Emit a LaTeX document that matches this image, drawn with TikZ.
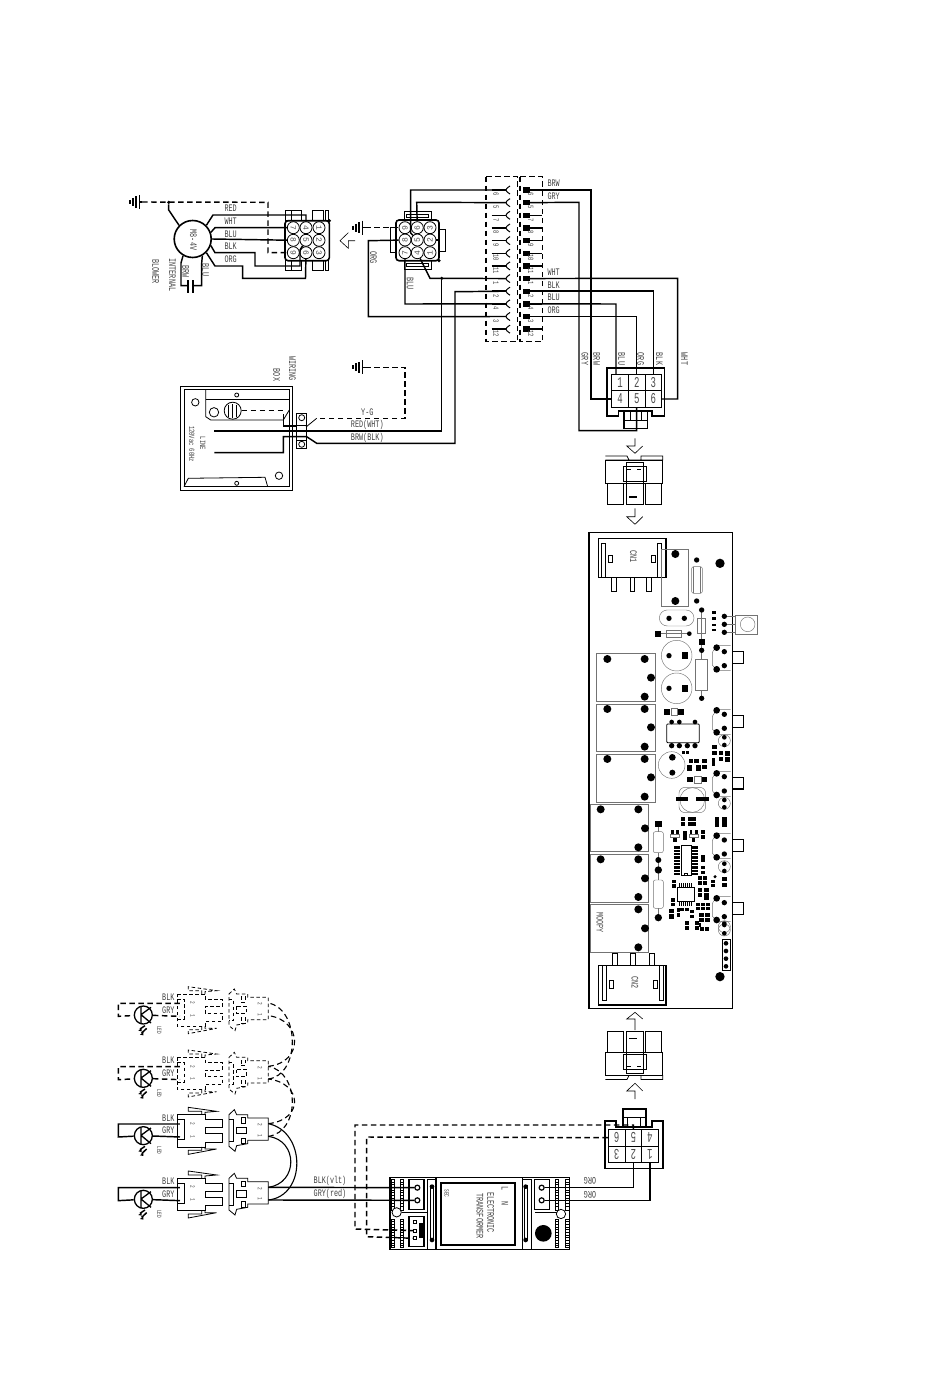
\documentclass[tikz,border=0pt]{standalone}
\usepackage{fontspec}
\newfontfamily\labelfam{Liberation Mono}
\newcommand{\lblfont}{\labelfam\fontsize{10}{11}\selectfont}
\newcommand{\tinyfont}{\labelfam\fontsize{6.5}{7}\selectfont}
\newcommand{\pinfont}{\labelfam\fontsize{8}{9}\selectfont}
\newcommand{\cellfont}{\labelfam\fontsize{15}{16}\selectfont}
\usetikzlibrary{positioning, calc}
\tikzset{
  wire/.style={line width=1.45pt},
  dwire/.style={line width=1.45pt, dash pattern=on 5.5pt off 3.5pt},
  part/.style={line width=.8pt},
  heavy/.style={line width=1.6pt},
  fine/.style={line width=.6pt},
  gline/.style={line width=.45pt, black!55},
  lbl/.style={inner sep=0pt, transform shape, xscale=.68, font=\lblfont, text=black!75},
  rlbl/.style={inner sep=0pt, transform shape, rotate=-90, xscale=.68, font=\lblfont, text=black!75},
  flbl/.style={inner sep=0pt, transform shape, rotate=180, xscale=.68, font=\lblfont, text=black!75},
  pincirc/.style={circle, draw, line width=.8pt, minimum size=12pt, inner sep=0pt, transform shape, font=\pinfont, text=black!70},
  gridcell/.style={rectangle, draw, line width=.9pt, minimum size=16.6pt, inner sep=0pt, transform shape, font=\cellfont, text=black!70},
  blackdot/.style={circle, fill=black, inner sep=0pt, minimum size=3.5pt},
  ledsolid/.style={},
  leddash/.style={dash pattern=on 3.5pt off 2.5pt},
  pics/gndmark/.style={code={
    \foreach \gx/\gh in {0/2,3/4,6/5.5,9.5/7} \draw[line width=1.1pt] (\gx,-\gh) -- (\gx,\gh);
    \draw[line width=1.1pt] (9.5,0) -- (12,0);
  }},
}
\begin{document}
\begin{tikzpicture}[x=1pt, y=-1pt]
  \useasboundingbox (0,0) rectangle (950,1383);

  % blower
  \pic at (130,202) {gndmark};
  \coordinate (gA) at (142,202);
  \node[circle, draw, heavy, minimum size=37pt, inner sep=0pt] (motor) at (192.7,239) {};
  \node[rlbl] (motortxt) at (193.3,240) {M8-4V};
  \node[blackdot] (gjoin) at (168.7,202.3) {};
  \node[rlbl] (intl) at (172.3,275) {INTERNAL};
  \node[rlbl] (blowl) at (155.7,271.7) {BLOWER};
  \node[rlbl] (brwl) at (185.7,271.7) {BRW};
  \node[rlbl] (blul) at (205.7,270) {BLU};
  \foreach \lb/\yy in {RED/208.3, WHT/221.7, BLU/234, BLK/246.7, ORG/259.3}
    \node[lbl] (l\lb) at (230.7,\yy) {\lb};

  % left 9 pin connector
  \draw[heavy, rounded corners=3pt] (285,220.7) rectangle (329.3,260.7);
  \foreach \xa/\xb in {285/291, 291/301.7, 312.7/323.3, 325/328.3} {
    \draw[part] (\xa,210.7) rectangle (\xb,220.7);
    \draw[part] (\xa,260.7) rectangle (\xb,270.7);
  }
  \foreach \n/\xx/\yy in {7/293.3/227.7, 4/306/227.7, 1/319/227.7, 8/293.3/240.3, 5/306/240.3, 2/319/240.3, 9/293.3/252.7, 6/306/252.7, 3/319/252.7}
    \node[pincirc, rotate=-90] (ca\n) at (\xx,\yy) {\n};
  \node[blackdot] (cadot) at (329.3,220.7) {};

  \draw[wire] (gjoin) -- (168.7,210) -- (motor.135);
  \draw[dwire] (gA) -- (268,202.3) |- (ca9);
  \draw[wire] (motor.45) -- (213,215) -- (306,215) -- (ca4);
  \draw[wire] (motor.20) -- (215,227.7) -- (ca7);
  \draw[wire] (motor.east) -- (ca8);
  \draw[wire] (motor.-20) -- (215,252.7) -- (255,252.7) -- (255,266) -- (300,266) -- (300,250) -- (ca5);
  \draw[wire] (motor.-45) -- (215,266) -- (242.7,266) -- (242.7,278.3) -- (305.5,278.3) -- (ca6);
  \coordinate (capl) at (188.3,285.7);
  \coordinate (capr) at (193.3,285.7);
  \draw[wire] (motor.-120) -- (181,263) -- (181,285.7) -- (capl);
  \draw[wire] (motor.-60) -- (201.7,263) -- (201.7,285.7) -- (capr);
  \draw[line width=2pt] (188.3,280) -- (188.3,293);
  \draw[line width=2pt] (193.3,280) -- (193.3,293);

  % arrow between the two
  \draw[fine] (348.3,232.7) -- (340,240.7) -- (348.3,248.3) -- (348.3,240.7) -- (355,240.7);

  % right 9 pin connector
  \pic at (353,227.7) {gndmark};
  \coordinate (gB) at (365,227.7);
  \draw[heavy, rounded corners=3pt] (396,220) rectangle (439,260.7);
  \draw[part] (404,211.7) rectangle (431.7,220);
  \draw[part] (406.7,214.3) rectangle (428.3,217.7);
  \draw[part] (404,260.7) rectangle (431.7,269.3);
  \draw[part] (406.7,263.3) rectangle (428.3,266.7);
  \draw[part] (390,227.3) rectangle (396,252);
  \draw[part] (439,229.3) rectangle (445,251.7);
  \foreach \n/\xx/\yy in {9/405/227.7, 6/417.3/227.7, 3/430/227.7, 8/405/240, 5/417.3/240, 2/430/240, 7/405/252.7, 4/417.3/252.7, 1/430/252.7}
    \node[pincirc, rotate=90] (cb\n) at (\xx,\yy) {\n};
  \node[blackdot] (cbdot) at (439,260.7) {};
  \draw[wire] (cb2) -- (439,240);
  \draw[dwire] (gB) -- (cb9);
  \node[rlbl] (orgl) at (373.3,257.3) {ORG};
  \node[rlbl] (blucl) at (410,283.3) {BLU};

  % terminal strip
  \draw[dwire] (486,176.7) rectangle (517.3,341.7);
  \draw[dwire] (520,176.7) rectangle (542.3,341.7);
  \foreach \i/\t in {1/6,2/5,3/7,4/8,5/9,6/10,7/11,8/1,9/2,10/4,11/3,12/12} {
    \pgfmathsetmacro{\yy}{190+12.65*(\i-1)}
    \coordinate (sl\i) at (506,\yy);
    \coordinate (sr\i) at (530,\yy);
    \draw[wire] (491.7,\yy) -- (sl\i);
    \draw[line width=1pt] (510,\yy-4) .. controls (507,\yy-2) and (506,\yy-1) .. (sl\i) .. controls (506,\yy+1) and (507,\yy+2) .. (510,\yy+4);
    \fill (523.3,\yy-2.7) rectangle (530,\yy+2.7);
    \draw[wire] (sr\i) -- (542.3,\yy);
    \node[rlbl, font=\pinfont] (nl\i) at (496,\yy+4.5) {\t};
    \node[rlbl, font=\pinfont] (nr\i) at (530.7,\yy+4.5) {\t};
  }
  \foreach \lb/\yy in {BRW/183.3, GRY/196, WHT/272.3, BLK/285, BLU/297.7, ORG/310.7}
    \node[lbl] (t\lb) at (553.7,\yy) {\lb};

  \draw[wire] (sl1) -- (410.7,190) -- (410.7,233) -- (cb5);
  \draw[wire] (sl2) -- (416.7,202.3) -- (cb6);
  \draw[wire] (sl11) -- (368.3,316.7) -- (368.3,240.7) -- (cb8);
  \draw[wire] (sl10) -- (405,304) -- (cb7);
  \draw[wire] (cb4) -- (430,278.3) -- (sl8);
  \node[blackdot] (joinL) at (441.7,278.3) {};

  % 6 pin connector, upper
  \draw[heavy] (606.7,367.7) -- (664.3,367.7) -- (664.3,416) -- (651.7,416) -- (651.7,410.7) -- (618.3,410.7) -- (618.3,416) -- (606.7,416) -- cycle;
  \foreach \n/\xx/\yy in {1/620/382.3, 2/636.7/382.3, 3/653.3/382.3, 4/620/399, 5/636.7/399, 6/653.3/399}
    \node[gridcell] (ka\n) at (\xx,\yy) {\scalebox{.6}[1]{\n}};
  \draw[heavy] (624,410.7) rectangle (647.3,428.3);
  \draw[part] (630,410.7) -- (630,420) (641,410.7) -- (641,420) (624,420) -- (647.3,420);
  \draw[wire] (sr1) -- (591,190) |- (ka4);
  \draw[wire] (sr2) -- (579,202.3) |- (636.7,430.7) -- (ka5);
  \draw[wire] (sr8) -- (677.7,278.3) |- (ka6);
  \draw[wire] (sr9) -| (ka3);
  \draw[wire] (sr10) -- (616,304) -- (616,374);
  \draw[wire] (sr11) -| (ka2);
  \foreach \lb/\xx in {GRY/585, BRW/596.7, BLU/621.7, ORG/640.7, BLK/659.3, WHT/684.3}
    \node[rlbl] (k\lb) at (\xx,359) {\lb};

  % wiring box
  \draw[part] (180.7,386.7) rectangle (292.3,490);
  \draw[part] (184,389.3) rectangle (289.3,486.7);
  \draw[part] (205.7,389.3) -- (205.7,416.7) -- (210.7,420) -- (283.3,420) -- (289.3,410);
  \draw[part] (205.7,399.3) -- (289.3,399.3);
  \draw[part] (184,486.7) -- (188.3,478.3) -- (265,477.3) -- (267.7,486.7);
  \foreach \xx/\yy/\rr in {236.7/395/2, 195.3/402.3/3.7, 214/412.3/4.7, 279/475.7/3.7, 236.7/483.3/2}
    \draw[part] (\xx,\yy) circle (\rr);
  \node[circle, draw, part, minimum size=17pt, inner sep=0pt] (boxgnd) at (232.7,410.7) {};
  \draw[part] (228.5,405) -- (228.5,416.5) (232.7,404) -- (232.7,417.5) (236.5,405) -- (236.5,416.5);
  \draw[part] (296.7,413.3) rectangle (306,448.3);
  \node[circle, draw, part, minimum size=6pt, inner sep=0pt] (tbA) at (301.7,417.7) {};
  \node[circle, draw, part, minimum size=6pt, inner sep=0pt] (tbB) at (301.7,444.3) {};
  \draw[part] (296.7,425) -- (306,425) (296.7,440) -- (306,440);
  \pic at (353,367.3) {gndmark};
  \coordinate (gC) at (365,367.3);
  \coordinate (yg) at (316.7,418.3);
  \draw[dwire] (gC) -- (405,367.3) -- (405,418.3) -- (yg);
  \draw[part] (yg) -- (306,427);
  \draw[dwire] (boxgnd) -- (283.3,410.7) -- (283.3,418);
  \draw[wire] (283.3,418) -- (283.3,426) -- (296.7,426);
  \coordinate (lineA) at (214.3,431);
  \coordinate (lineB) at (214.3,452.7);
  \draw[wire] (lineA) -- (441.7,431) -- (joinL);
  \draw[wire] (lineB) -- (283.3,452.7) -- (283.3,436.7) -- (306.7,436.7) -- (316.7,443.3) -- (455,443.3) -- (455,291.7) -- (sl9);
  \node[lbl] (lyg) at (367.3,412.7) {Y-G};
  \node[lbl] (lred) at (367.3,425) {RED(WHT)};
  \node[lbl] (lbrw) at (367.3,437.7) {BRW(BLK)};
  \node[rlbl] (lwir) at (292.3,368.3) {WIRING};
  \node[rlbl] (lbox) at (276.7,375) {BOX};
  \node[rlbl, font=\pinfont] (lline) at (202.7,443.3) {LINE};
  \node[rlbl, font=\pinfont] (lvac) at (191.7,444) {120Vac 60Hz};

  % arrows and plugs
  \draw[fine] (635,438.3) -- (635,446) -- (626.7,446) -- (635,453.3) -- (642.7,446);
  \draw[fine] (635,508.3) -- (635,516.7) -- (626.7,516.7) -- (635,524.3) -- (642.7,516.7);
  \draw[fine] (635,1030) -- (635,1019) -- (626.7,1019) -- (635,1012.3) -- (642.7,1019);
  \draw[fine] (635,1099) -- (635,1091) -- (626.7,1091) -- (635,1083.3) -- (642.7,1091);
  \foreach \sh/\fl in {456/1, 1079.5/-1} {
    \begin{scope}[shift={(634,\sh)}, yscale=\fl]
      \draw[part] (-28.7,0) -- (-7,0) -- (-5,4) (7,4) -- (7,0) -- (28.7,0) -- (28.7,4) -- (-28.7,4) -- cycle;
      \draw[part] (-28.7,4) rectangle (28.7,27);
      \draw[part] (-27,27) rectangle (-11,48);
      \draw[part] (11,27) rectangle (27,48);
      \draw[part] (-11,10) rectangle (12,25);
      \draw[part] (-8,6.5) rectangle (9,48);
      \draw[line width=1.5pt] (-5,41) -- (3,41);
      \draw[line width=.7pt] (-7,13) -- (-3,13) (3,13) -- (7,13);
    \end{scope}
  }

  % board
  \draw[heavy] (589,532.3) rectangle (732.3,1008.3);
  \begin{scope}[shift={(580,525)}, x=.3333pt, y=-.3333pt]
    \draw[heavy] (55,40) rectangle (258,158);
    \draw[part] (65,55) rectangle (75,158);
    \draw[part] (233,55) rectangle (245,158);
    \draw[part] (85,90) rectangle (97,112);
    \draw[part] (215,90) rectangle (227,112);
    \node[rlbl] (cnA) at (160,95) {CN1};
    \foreach \xa in {94,150,200}
      \draw[part] (\xa,158) rectangle (\xa+14,200);
    \draw[gline] (245,72) rectangle (325,245);
    \draw[gline, rounded corners=2pt] (335,125) rectangle (367,205);
    \draw[gline] (340,125) -- (340,205) (362,125) -- (362,205);
    \draw[gline, rounded corners=8pt] (238,255) rectangle (342,303);
    \draw[gline] (467,272) rectangle (532,327);
    \draw[gline] (503,298) circle (22);
    \draw[gline] (433,274) -- (467,274) (433,298) -- (467,298) (433,322) -- (467,322);
    \draw[gline] (258,315) rectangle (305,338);
    \draw[gline] (234,326) -- (328,326);
    \draw[gline] (353,280) rectangle (377,325);
    \draw[gline] (365,255) -- (365,376);
    \draw[gline] (347,403) rectangle (382,497);
    \draw[gline] (365,376) -- (365,403) (365,497) -- (365,520);
    \draw[gline] (290,392) circle (46);
    \draw[gline] (290,490) circle (46);
    \draw[gline] (50,385) rectangle (226,530);
    \draw[gline] (50,538) rectangle (226,680);
    \draw[gline] (50,688) rectangle (226,831);
    \foreach \yb in {380,572} {
      \draw[heavy] (457,\yb) -- (490,\yb) -- (490,\yb+35) -- (457,\yb+35);
      \draw[gline] (452,\yb-18) -- (410,\yb-18) -- (397,\yb+2) -- (397,\yb+40) -- (410,\yb+57) -- (452,\yb+57);
    }
    \foreach \xx/\yy/\rr in {286/87/12, 286/228/12, 350/105/8, 350/228/8, 420/115/14, 267/280/8, 313/280/8, 365/255/8, 433/274/8, 433/298/8, 433/322/8, 328/326/7, 365/376/8, 267/392/8, 365/520/8, 267/490/8,
      82/402/12, 194/402/12, 213/458/12, 194/515/12, 82/552/12, 194/552/12, 213/607/12, 194/665/12, 82/702/12, 194/702/12,
      410/368/10, 410/433/10, 433/380/8, 433/422/8, 410/556/10, 410/622/10, 433/568/8, 433/610/8}
      \fill (\xx,\yy) circle (\rr);
    \foreach \xx/\yy/\ww/\hh in {402/262/10/8, 402/280/10/8, 402/300/10/8, 402/315/10/8, 234/326/18/18, 365/350/18/18, 315/392/20/20, 315/490/20/20}
      \fill (\xx-\ww/2,\yy-\hh/2) rectangle (\xx+\ww/2,\yy+\hh/2);
  \end{scope}
  \begin{scope}[shift={(655,700)}, x=.3333pt, y=-.3333pt]
    \draw[part, rounded corners=1pt] (35,72) rectangle (133,128);
    \draw[gline] (50,25) rectangle (68,47);
    \draw[gline] (50,195) circle (40);
    \draw[gline, rounded corners=6pt] (72,262) rectangle (152,338);
    \draw[gline] (112,300) circle (37);
    \draw[gline] (118,228) rectangle (138,250);
    \draw[gline] (208,122) circle (18);
    \draw[gline] (208,310) circle (18);
    \foreach \xx/\yy/\rr in {50/66/7, 73/66/7, 120/66/7, 50/137/8, 73/137/8, 97/137/8, 120/137/8, 52/172/10, 52/218/9, 208/112/7, 208/135/7, 208/300/7, 208/322/7}
      \fill (\xx,\yy) circle (\rr);
    \foreach \xx/\yy/\ww/\hh in {37/35/18/18, 78/35/18/18, 85/158/10/10, 97/158/10/10, 108/182/14/12, 125/182/14/12, 103/205/14/18, 130/205/14/18, 148/183/14/12, 148/200/14/12,
      105/238/16/16, 148/238/16/16, 81/298/38/11, 143/298/38/11, 178/140/14/12, 178/158/14/12, 198/158/14/12, 198/178/14/12, 175/180/10/10, 175/192/10/10, 218/160/14/14, 218/178/14/14}
      \fill (\xx-\ww/2,\yy-\hh/2) rectangle (\xx+\ww/2,\yy+\hh/2);
  \end{scope}
  \begin{scope}[shift={(655,815)}, x=.3333pt, y=-.3333pt]
    \draw[part] (78,92) rectangle (110,182);
    \draw[part] (88,175) rectangle (98,182);
    \draw[part] (68,217) rectangle (118,258);
    \draw[gline] (47,58) rectangle (73,68);
    \draw[gline] (103,58) rectangle (130,68);
    \draw[gline] (208,155) circle (18);
    \draw[gline] (208,335) circle (18);
    \foreach \yb in {97,107,...,177} {
      \fill (57,\yb-3.5) rectangle (75,\yb+3.5);
      \fill (112,\yb-3.5) rectangle (130,\yb+3.5);
    }
    \foreach \xb in {73,79,...,113} {
      \fill (\xb-2,203) rectangle (\xb+2,215);
      \fill (\xb-2,260) rectangle (\xb+2,272);
    }
    \foreach \xx/\yy/\rr in {208/146/7, 208/168/7, 180/185/5, 208/325/7}
      \fill (\xx,\yy) circle (\rr);
    \foreach \xx/\yy/\ww/\hh in {84/13/14/12, 84/28/14/12, 104/13/12/12, 104/28/12/12, 118/13/12/12, 118/28/12/12, 186/13/14/14, 186/28/14/14, 208/13/14/14, 208/28/14/14,
      52/51/8/10, 68/51/8/10, 60/75/10/10, 90/55/14/14, 90/70/14/12, 108/51/8/10, 125/51/8/10, 115/75/10/10, 143/52/12/12, 143/65/12/12,
      143/125/12/10, 143/135/12/10, 143/158/12/10, 143/172/12/10, 135/190/12/12, 150/190/12/12, 135/205/12/12, 150/205/12/12, 173/200/12/10, 173/212/12/10, 208/192/14/12, 208/210/14/12,
      58/200/12/10, 58/213/12/10, 135/225/12/12, 155/225/14/12, 135/240/12/12, 155/240/14/12, 155/250/14/8, 55/255/12/10, 55/268/12/10,
      130/268/12/10, 145/268/12/10, 158/268/12/10, 130/280/12/10, 145/280/12/10, 158/280/12/10, 50/288/16/14, 50/305/16/14, 70/285/10/12, 70/300/10/12, 82/283/12/10, 95/283/12/10, 110/290/12/10, 110/305/12/10,
      140/300/14/12, 158/300/14/12, 140/315/14/12, 158/315/14/12, 97/325/12/12, 97/338/12/12, 125/325/12/12, 125/338/12/12, 140/342/12/10, 155/342/12/10, 135/330/6/10}
      \fill (\xx-\ww/2,\yy-\hh/2) rectangle (\xx+\ww/2,\yy+\hh/2);
  \end{scope}
  \begin{scope}[shift={(580,770)}, x=.3333pt, y=-.3333pt]
    \draw[heavy] (55,587) rectangle (258,705);
    \draw[part] (68,587) rectangle (80,690);
    \draw[part] (237,587) rectangle (249,690);
    \draw[part] (88,632) rectangle (100,655);
    \draw[part] (220,632) rectangle (232,655);
    \node[rlbl] (cnB) at (165,638) {CN2};
    \foreach \xa in {98,150,207}
      \draw[part] (\xa,550) rectangle (\xa+15,587);
    \foreach \yb/\ye in {103/245, 253/397, 403/547}
      \draw[gline] (32,\yb) rectangle (205,\ye);
    \node[rlbl, text=black!70] (moopy) at (60,458) {MOOPY};
    \foreach \yb in {22,209,398} {
      \draw[heavy] (457,\yb) -- (490,\yb) -- (490,\yb+35) -- (457,\yb+35);
      \draw[gline] (452,\yb-18) -- (410,\yb-18) -- (397,\yb+2) -- (397,\yb+40) -- (410,\yb+57) -- (452,\yb+57);
    }
    \draw[gline, rounded corners=2pt] (220,185) rectangle (250,248);
    \draw[gline] (235,162) -- (235,185) (235,248) -- (235,300);
    \draw[gline, rounded corners=2pt] (220,330) rectangle (250,415);
    \draw[gline] (235,300) -- (235,330) (235,415) -- (235,443);
    \draw[part] (428,508) rectangle (452,600);
    \draw[gline] (433,480) circle (18);
    \foreach \xx/\yy/\rr in {62/118/12, 175/118/12, 195/175/12, 175/232/12, 62/268/12, 175/268/12, 195/325/12, 175/381/12, 175/418/12, 195/475/12, 175/532/12,
      213/22/12, 194/80/12,
      410/10/10, 410/75/10, 433/20/8, 433/63/8, 410/197/10, 410/262/10, 433/210/8, 433/252/8, 410/385/10, 410/450/10, 433/398/8, 433/440/8,
      433/465/7, 433/490/7, 235/270/9, 235/300/11, 235/443/11, 420/620/14,
      438/520/7, 438/543/7, 438/566/7, 438/589/7}
      \fill (\xx,\yy) circle (\rr);
    \fill (225,153) rectangle (245,171);
  \end{scope}

  % lamps
  \foreach \r/\dy/\st/\wst in {4/0/ledsolid/wire, 3/-191/ledsolid/wire, 2/-363/leddash/dwire, 1/-553/leddash/dwire} {
    \begin{scope}[shift={(100,980)}, x=.3333pt, y=-.3333pt, shift={(0,\dy)}]
      \node[lbl] (lk\r) at (205,605) {BLK};
      \node[lbl] (lg\r) at (205,643) {GRY};
      \node[circle, draw, line width=1.3pt, minimum size=18pt, inner sep=0pt] (led\r) at (130,658) {};
      \coordinate (ppa\r) at (240,623);
      \coordinate (ppb\r) at (240,662);
      \draw[\wst] (ppa\r) -- (55,623) -- (55,662) -- (led\r);
      \draw[\wst] (led\r) -- (ppb\r);
      \draw[line width=1.3pt] (123,633) -- (123,685) (123,657) -- (153,635) (123,657) -- (153,682);
      \draw[line width=1.5pt] (120,700) -- (135,690) (125,712) -- (140,698);
      \fill (115,705) -- (125,697) -- (125,707) -- cycle;
      \fill (120,717) -- (130,709) -- (130,719) -- cycle;
      \node[rlbl, font=\tinyfont] (ledt\r) at (178,703) {LED};
      % plug
      \draw[part, \st] (232,595) -- (315,595) -- (315,610) -- (367,610) -- (367,633) -- (315,633) -- (315,652) -- (367,652) -- (367,677) -- (315,677) -- (315,692) -- (232,692) -- cycle;
      \draw[part, \st] (232,610) -- (252,610) -- (252,670) -- (232,670);
      \draw[part, \st] (305,595) -- (305,585) -- (265,585) -- (265,573) -- (350,585) -- (315,588) -- (315,595);
      \draw[part, \st] (305,692) -- (305,702) -- (265,702) -- (265,714) -- (350,698) -- (315,698) -- (315,692);
      \node[rlbl, font=\tinyfont] (pn\r) at (278,622) {2};
      \node[rlbl, font=\tinyfont] (pm\r) at (278,660) {1};
      % receptacle
      \draw[part, \st] (387,595) -- (403,580) -- (410,595) -- (443,595) -- (443,605) -- (505,605) -- (505,672) -- (443,672) -- (443,682) -- (410,688) -- (405,705) -- (387,690) -- cycle;
      \draw[part, \st] (387,610) -- (400,610) -- (400,675) -- (387,675);
      \draw[part, \st] (408,632) rectangle (440,652);
      \draw[part, \st] (423,603) rectangle (435,620);
      \draw[part, \st] (423,665) rectangle (435,682);
      \node[rlbl, font=\tinyfont] (qn\r) at (480,625) {2};
      \node[rlbl, font=\tinyfont] (qm\r) at (480,658) {1};
      \coordinate (ra\r) at (505,622);
      \coordinate (rb\r) at (505,660);
    \end{scope}
  }
  \draw[line width=1.1pt] (rb4) .. controls +(38,-4) and +(38,8) .. (ra3);
  \draw[line width=1.1pt] (ra4) .. controls +(30,-4) and +(30,4) .. (rb3);
  \draw[dwire, line width=1.1pt] (rb3) .. controls +(32,-4) and +(32,6) .. (ra2);
  \draw[dwire, line width=1.1pt] (ra3) .. controls +(36,-4) and +(34,4) .. (rb2);
  \draw[dwire, line width=1.1pt] (rb2) .. controls +(32,-4) and +(32,6) .. (ra1);
  \draw[dwire, line width=1.1pt] (ra2) .. controls +(36,-4) and +(34,4) .. (rb1);

  % transformer
  \begin{scope}[shift={(340,1020)}, x=.3333pt, y=-.3333pt]
    \draw[heavy] (150,472) rectangle (688,688);
    \draw[heavy] (288,472) -- (288,688) (548,472) -- (548,688);
    \draw[line width=1.8pt] (302,490) rectangle (526,675);
    \draw[part] (262,478) rectangle (288,688);
    \draw[part] (548,478) rectangle (575,688);
    \draw[line width=1.2pt] (272,498) rectangle (280,660);
    \draw[line width=1.2pt] (553,498) rectangle (562,660);
    \draw[heavy] (207,478) rectangle (252,568);
    \draw[heavy] (583,478) rectangle (628,568);
    \node[circle, draw, line width=1.2pt, minimum size=5pt, inner sep=0pt] (tla) at (232,503) {};
    \node[circle, draw, line width=1.2pt, minimum size=5pt, inner sep=0pt] (tlb) at (232,541) {};
    \node[circle, draw, line width=1.2pt, minimum size=5pt, inner sep=0pt] (tra) at (605,503) {};
    \node[circle, draw, line width=1.2pt, minimum size=5pt, inner sep=0pt] (trb) at (605,541) {};
    \foreach \xb in {153,180,645,677} {
      \draw[part] (\xb,478) rectangle (\xb+10,570);
      \draw[part] (\xb,597) rectangle (\xb+10,682);
      \foreach \yb in {486,494,...,562} \draw[part] (\xb,\yb) -- (\xb+10,\yb);
      \foreach \yb in {605,613,...,677} \draw[part] (\xb,\yb) -- (\xb+10,\yb);
    }
    \draw[part] (185,577) -- (262,577);
    \draw[part] (585,577) -- (650,577);
    \draw[part, fill=white] (170,577) circle (14);
    \draw[part, fill=white] (663,582) circle (14);
    \draw[heavy] (207,590) rectangle (252,680);
    \node[rectangle, draw, part, minimum size=3pt, inner sep=0pt] (ba) at (225,607) {};
    \node[rectangle, draw, part, minimum size=3pt, inner sep=0pt] (bb) at (225,632) {};
    \node[rectangle, draw, part, minimum size=3pt, inner sep=0pt] (bc) at (225,655) {};
    \fill (238,610) rectangle (250,655);
    \fill (610,640) circle (25);
    \foreach \yb in {500,660} {
      \fill (276,\yb) circle (7);
      \fill (557,\yb) circle (7);
    }
    \node[rlbl] (elec) at (452,578) {ELECTRONIC};
    \node[rlbl] (trans) at (420,588) {TRANSFORMER};
    \node[rlbl] (tl) at (495,505) {L};
    \node[rlbl] (tn) at (495,550) {N};
    \node[rlbl, font=\tinyfont] (sec) at (320,520) {SEC};
    \node[flbl] (orga) at (750,483) {ORG};
    \node[flbl] (orgb) at (750,523) {ORG};
  \end{scope}
  \node[lbl] (bvlt) at (330,1181) {BLK(vlt)};
  \node[lbl] (gred) at (330,1194) {GRY(red)};
  \draw[wire] (ra4) -- (tla);
  \draw[wire] (rb4) -- (tlb);

  % 6 pin connector, lower
  \draw[heavy] (605,1120.7) -- (616,1120.7) -- (616,1126.7) -- (651.7,1126.7) -- (651.7,1120.7) -- (662.7,1120.7) -- (662.7,1168.3) -- (605,1168.3) -- cycle;
  \foreach \n/\xx/\yy in {6/616.7/1137.7, 5/633.3/1137.7, 4/650/1137.7, 3/616.7/1154.3, 2/633.3/1154.3, 1/650/1154.3}
    \node[gridcell, rotate=180] (kb\n) at (\xx,\yy) {\scalebox{.6}[1]{\n}};
  \draw[heavy] (622.7,1109) rectangle (646,1126.7);
  \draw[part] (627.3,1117) -- (627.3,1126.7) (640,1117) -- (640,1126.7) (622.7,1117) -- (646,1117);
  \draw[wire] (tra) -| (kb2);
  \draw[wire] (trb) -| (kb1);
  \draw[dwire] (kb5) -- (633.3,1125) -- (355,1125) -- (355,1229) -- (bb);
  \draw[dwire] (kb6) -- (366.7,1137) -- (366.7,1236.7) -- (bc);
\end{tikzpicture}
\end{document}
